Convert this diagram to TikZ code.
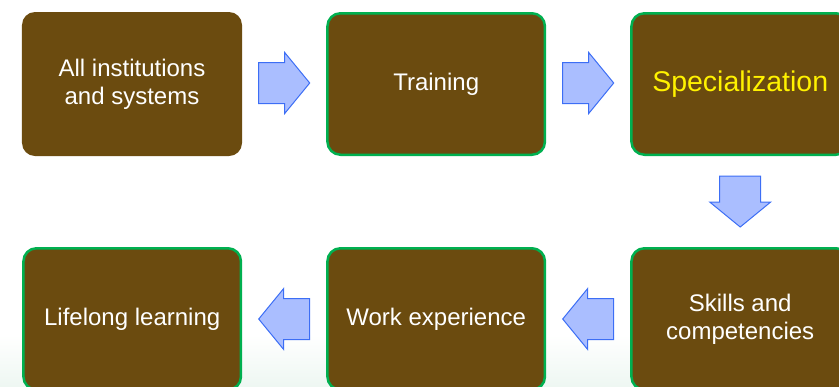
\documentclass[tikz,border=0pt]{standalone}
\usepackage{fontspec}
\setmainfont{Liberation Sans}
\usepackage{tikz}
\usetikzlibrary{calc,positioning}
\usepackage{xcolor}
\definecolor{boxbrown}{RGB}{107,75,15}
\definecolor{stagegreen}{RGB}{0,176,80}
\definecolor{arrowfill}{RGB}{170,190,255}
\definecolor{arrowline}{RGB}{60,110,245}
\definecolor{bgmint}{RGB}{238,247,242}
\tikzstyle{stagebox}=[
  fill=boxbrown, rounded corners=13bp, minimum width=220bp, minimum height=144bp,
  text=white, font=\fontsize{24bp}{28bp}\selectfont, align=center, inner sep=0pt
]
\tikzstyle{greenbox}=[
  stagebox, draw=stagegreen, line width=2.5bp, minimum width=217.5bp, minimum height=141.5bp
]
\tikzstyle{blockarrow}=[
  fill=arrowfill, draw=arrowline, line width=1bp, line join=miter
]
\newcommand{\flowarrow}[2]{%
  \draw [blockarrow, shift={(#1)}, rotate=#2]
    (-25.5,-20.5) -- (0.5,-20.5) -- (0.5,-30.5) -- (25.5,0)
    -- (0.5,30.5) -- (0.5,20.5) -- (-25.5,20.5) -- cycle;
}

\begin{document}
\begin{tikzpicture}[x=1bp,y=-1bp]
    \useasboundingbox (0,0) rectangle (839,386);
    \clip (0,0) rectangle (839,386);
    \fill [top color=white, bottom color=bgmint] (0,335) rectangle (839,386);
      \node (inst) at (132,84) [stagebox] {All institutions\\and systems};
      \node (train) [greenbox, right=84bp of inst] {Training};
      \node (spec) [greenbox, right=84bp of train, text=yellow,
        font=\fontsize{28.5bp}{32bp}\selectfont] {Specialization};
      \node (skills) [greenbox, below=91bp of spec] {Skills and\\competencies};
      \node (work) [greenbox, left=84bp of skills] {Work experience};
      \node (life) [greenbox, left=84bp of work] {Lifelong learning};
      \flowarrow{$(inst.east)!0.5!(train.west) + (0,-1)$}{0}
      \flowarrow{$(train.east)!0.5!(spec.west) + (0,-1)$}{0}
      \flowarrow{$(spec.south)!0.5!(skills.north)$}{-90}
      \flowarrow{$(skills.west)!0.5!(work.east)$}{180}
      \flowarrow{$(work.west)!0.5!(life.east)$}{180}
    \end{tikzpicture}
\end{document}
